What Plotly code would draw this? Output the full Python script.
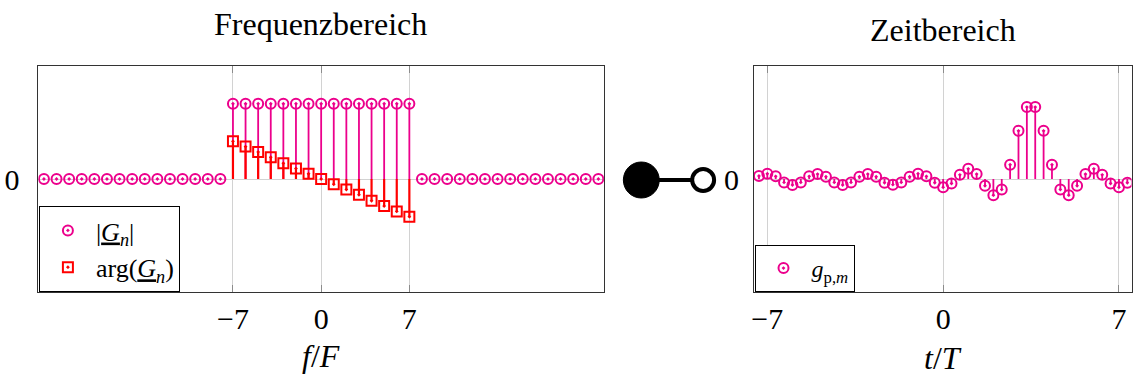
import numpy as np
import plotly.graph_objects as go

# ---------------- data ----------------
# spectral index n and the spectrum G_n (magnitude / phase)
n_idx = [-22, -21, -20, -19, -18, -17, -16, -15, -14, -13, -12, -11, -10, -9, -8,
         -7, -6, -5, -4, -3, -2, -1, 0, 1, 2, 3, 4, 5, 6, 7,
         8, 9, 10, 11, 12, 13, 14, 15, 16, 17, 18, 19, 20, 21, 22]
G_mag = [0, 0, 0, 0, 0, 0, 0, 0, 0, 0, 0, 0, 0, 0, 0,
         1, 1, 1, 1, 1, 1, 1, 1, 1, 1, 1, 1, 1, 1, 1,
         0, 0, 0, 0, 0, 0, 0, 0, 0, 0, 0, 0, 0, 0, 0]
arg_idx = [-7, -6, -5, -4, -3, -2, -1, 0, 1, 2, 3, 4, 5, 6, 7]
G_arg = [0.5, 0.43, 0.36, 0.29, 0.21, 0.14, 0.07, 0.0,
         -0.07, -0.14, -0.21, -0.29, -0.36, -0.43, -0.5]

# time samples t_m = m * T/3 and the periodic signal g_p,m
m_idx = [-22, -21, -20, -19, -18, -17, -16, -15, -14, -13, -12, -11, -10, -9, -8,
         -7, -6, -5, -4, -3, -2, -1, 0, 1, 2, 3, 4, 5, 6, 7,
         8, 9, 10, 11, 12, 13, 14, 15, 16, 17, 18, 19, 20, 21, 22]
t_step = 1 / 3
g_p = [0.04, 0.07, 0.035, -0.045, -0.08, -0.045, 0.035, 0.065, 0.03, -0.045,
       -0.08, -0.045, 0.03, 0.065, 0.03, -0.05, -0.075, -0.045, 0.03, 0.07,
       0.035, -0.05, -0.11, -0.06, 0.055, 0.135, 0.065, -0.09, -0.215, -0.14,
       0.19, 0.64, 0.955, 0.955, 0.64, 0.19, -0.14, -0.215, -0.09, 0.065,
       0.135, 0.055, -0.06, -0.11, -0.05]

tick_vals = [-7, 0, 7]
tick_text = ["\u22127", "0", "7"]

# ---------------- style ----------------
W, H = 1135, 381
PINK = "#EC008C"
RED = "#FF0000"
FONT = "Liberation Serif"
FS = 30
LEG_FS = 26
GRID = "#d2d2d2"
TICKC = "#8c8c8c"


def px_x(p):
    return p / W


def px_y(p):
    return 1 - p / H


def stems(xs, ys):
    sx, sy = [], []
    for x, y in zip(xs, ys):
        sx += [x, x, None]
        sy += [0, y, None]
    return sx, sy


t_vals = np.array(m_idx) * t_step

fig = go.Figure()

# frequency domain: stems
sx, sy = stems(n_idx, G_mag)
fig.add_trace(go.Scatter(x=sx, y=sy, mode="lines", line=dict(color=PINK, width=1.8),
                         showlegend=False, hoverinfo="skip", xaxis="x", yaxis="y"))
sx, sy = stems(arg_idx, G_arg)
fig.add_trace(go.Scatter(x=sx, y=sy, mode="lines", line=dict(color=RED, width=2.2),
                         showlegend=False, hoverinfo="skip", xaxis="x", yaxis="y"))
# frequency domain: markers
fig.add_trace(go.Scatter(x=n_idx, y=G_mag, mode="markers", name="|<u><i>G</i></u><sub><i>n</i></sub>|",
                         marker=dict(symbol="circle-open-dot", size=10, color=PINK,
                                     line=dict(width=2, color=PINK)),
                         xaxis="x", yaxis="y", legend="legend"))
fig.add_trace(go.Scatter(x=arg_idx, y=G_arg, mode="markers", name="arg(<u><i>G</i></u><sub><i>n</i></sub>)",
                         marker=dict(symbol="square-open-dot", size=10, color=RED,
                                     line=dict(width=2, color=RED)),
                         xaxis="x", yaxis="y", legend="legend"))

# time domain
sx, sy = stems(list(t_vals), g_p)
fig.add_trace(go.Scatter(x=sx, y=sy, mode="lines", line=dict(color=PINK, width=1.8),
                         showlegend=False, hoverinfo="skip", xaxis="x2", yaxis="y2"))
fig.add_trace(go.Scatter(x=t_vals, y=g_p, mode="markers", name="<i>g</i><sub>p,<i>m</i></sub>",
                         marker=dict(symbol="circle-open-dot", size=10, color=PINK,
                                     line=dict(width=2, color=PINK)),
                         xaxis="x2", yaxis="y2", legend="legend2"))

ydom = [px_y(292), px_y(66)]
axis_common = dict(showline=True, linecolor="#333333", linewidth=1, mirror="ticks",
                   showgrid=True, gridcolor=GRID, gridwidth=1, zeroline=False,
                   tickfont=dict(family=FONT, size=FS, color="black"))

fig.update_layout(
    width=W, height=H,
    margin=dict(l=0, r=0, t=0, b=0),
    paper_bgcolor="white", plot_bgcolor="white",
    font=dict(family=FONT, size=FS, color="black"),
    xaxis=dict(domain=[px_x(35.5), px_x(602.5)], range=[-22.44, 22.44],
               tickvals=tick_vals, ticktext=tick_text, ticks="inside", ticklen=7,
               tickcolor=TICKC, ticklabelstandoff=0, anchor="y", **axis_common),
    yaxis=dict(domain=ydom, range=[-1.5, 1.5], tickvals=[0], ticktext=["0"],
               ticks="", ticklabelstandoff=12, anchor="x", **axis_common),
    xaxis2=dict(domain=[px_x(753), px_x(1131.5)], range=[-7.53, 7.5],
                tickvals=tick_vals, ticktext=tick_text, ticks="inside", ticklen=7,
                tickcolor=TICKC, ticklabelstandoff=0, anchor="y2", **axis_common),
    yaxis2=dict(domain=ydom, range=[-1.5, 1.5], tickvals=[0], ticktext=["0"],
                ticks="", ticklabelstandoff=8, anchor="x2", **axis_common),
    legend=dict(x=px_x(36), y=px_y(292), xanchor="left", yanchor="bottom",
                bgcolor="white", bordercolor="black", borderwidth=1, itemwidth=46,
                entrywidth=120, font=dict(family=FONT, size=LEG_FS), tracegroupgap=0),
    legend2=dict(x=px_x(753.5), y=px_y(292), xanchor="left", yanchor="bottom",
                 bgcolor="white", bordercolor="black", borderwidth=1, itemwidth=46,
                 entrywidth=80, font=dict(family=FONT, size=24)),
    annotations=[
        dict(text="Frequenzbereich", x=px_x(318), y=px_y(24), xref="paper", yref="paper",
             showarrow=False, xanchor="center", yanchor="middle", font=dict(size=32)),
        dict(text="Zeitbereich", x=px_x(942), y=px_y(30), xref="paper", yref="paper",
             showarrow=False, xanchor="center", yanchor="middle", font=dict(size=32)),
        dict(text="<i>f</i>/<i>F</i>", x=px_x(319), y=px_y(356), xref="paper", yref="paper",
             showarrow=False, xanchor="center", yanchor="middle", font=dict(size=32)),
        dict(text="<i>t</i>/<i>T</i>", x=px_x(942), y=px_y(358), xref="paper", yref="paper",
             showarrow=False, xanchor="center", yanchor="middle", font=dict(size=32)),
    ],
    shapes=[
        # transform pair symbol between the two panels
        dict(type="line", xref="paper", yref="paper", x0=px_x(655), x1=px_x(692),
             y0=px_y(180), y1=px_y(180), line=dict(color="black", width=4)),
        dict(type="circle", xref="paper", yref="paper",
             x0=px_x(622), x1=px_x(658), y0=px_y(198), y1=px_y(162),
             fillcolor="black", line=dict(color="black", width=1)),
        dict(type="circle", xref="paper", yref="paper",
             x0=px_x(691), x1=px_x(713), y0=px_y(191), y1=px_y(169),
             fillcolor="white", line=dict(color="black", width=4)),
    ],
)

fig.write_html("out.html")
